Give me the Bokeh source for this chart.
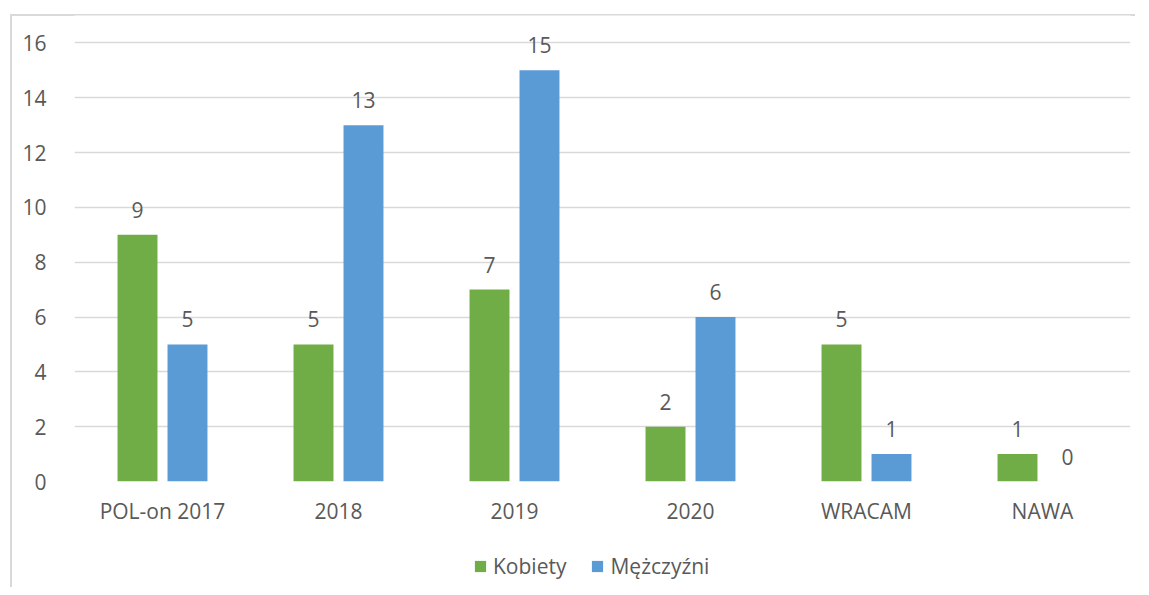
from bokeh.plotting import figure
from bokeh.layouts import column
from bokeh.models import ColumnDataSource, Range1d, FixedTicker, Legend, LegendItem, LabelSet
from bokeh.transform import dodge
from bokeh.core.properties import value
from bokeh.embed import file_html
from bokeh.resources import INLINE

categories = ["POL-on 2017", "2018", "2019", "2020", "WRACAM", "NAWA"]
kobiety = [9, 5, 7, 2, 5, 1]
mezczyzni = [5, 13, 15, 6, 1, 0]
y_ticks = [0, 2, 4, 6, 8, 10, 12, 14, 16]
series_names = ["Kobiety", "Mężczyźni"]

GREEN = "#70AD47"
BLUE = "#5B9BD5"
TEXT = "#595959"
BORDER = "#D9D9D9"
FONT = "Open Sans"
FS = "21px"

src = ColumnDataSource(dict(
    cat=categories, k=kobiety, m=mezczyzni,
    kl=[str(v) for v in kobiety], ml=[str(v) for v in mezczyzni],
))

W = 1141
H_MAIN = 530
H_LEG = 57

p = figure(x_range=categories, y_range=Range1d(0, 17), width=W, height=H_MAIN,
           output_backend="svg", toolbar_location=None,
           min_border_left=74, min_border_top=15, min_border_right=11, min_border_bottom=49)
p.outline_line_color = None
p.background_fill_color = "white"
p.border_fill_alpha = 0

off = 0.142
bw = 0.227
rk = p.vbar(x=dodge("cat", -off, range=p.x_range), top="k", width=bw, source=src,
            fill_color=GREEN, line_color=None)
rm = p.vbar(x=dodge("cat", off, range=p.x_range), top="m", width=bw, source=src,
            fill_color=BLUE, line_color=None)

for col, lab, d in (("k", "kl", -off), ("m", "ml", off)):
    ls = LabelSet(x=dodge("cat", d, range=p.x_range), y=col, text=lab, source=src,
                  y_offset=17, text_align="center", text_baseline="alphabetic",
                  text_font=value(FONT), text_font_size=FS, text_color=TEXT)
    p.add_layout(ls)

p.yaxis.ticker = FixedTicker(ticks=y_ticks)
p.yaxis.axis_line_color = None
p.yaxis.major_tick_line_color = None
p.yaxis.minor_tick_line_color = None
p.yaxis.major_label_standoff = 22
p.yaxis.major_label_text_font = FONT
p.yaxis.major_label_text_font_size = FS
p.yaxis.major_label_text_color = TEXT

p.xaxis.axis_line_color = None
p.xaxis.major_tick_line_color = None
p.xaxis.minor_tick_line_color = None
p.xaxis.major_label_standoff = 9
p.xaxis.major_label_text_font = FONT
p.xaxis.major_label_text_font_size = FS
p.xaxis.major_label_text_color = TEXT

p.xgrid.grid_line_color = None
p.ygrid.grid_line_color = "#D9D9D9"
p.ygrid.grid_line_width = 1.5

# legend strip below the chart (its frame is aligned with the main frame by the column)
pl = figure(width=W, height=H_LEG, x_range=Range1d(0, 1), y_range=Range1d(0, 1),
            output_backend="svg", toolbar_location=None,
            x_axis_location=None, y_axis_location=None, min_border=0)
pl.outline_line_color = None
pl.grid.grid_line_color = None
pl.border_fill_alpha = 0
pl.background_fill_alpha = 0
# legend swatches: zero-height bars placed outside the visible range
lk = pl.vbar(x=[-1], top=[0], width=0.1, fill_color=GREEN, line_color=None)
lm = pl.vbar(x=[-1], top=[0], width=0.1, fill_color=BLUE, line_color=None)
legend = Legend(items=[LegendItem(label=series_names[0], renderers=[lk]),
                       LegendItem(label=series_names[1], renderers=[lm])],
                orientation="horizontal", location=(399, 7),
                glyph_width=14, glyph_height=14, label_standoff=6, spacing=24,
                padding=0, margin=0, border_line_color=None, background_fill_alpha=0,
                label_text_font=FONT, label_text_font_size=FS, label_text_color=TEXT)
pl.add_layout(legend, "center")

layout = column(p, pl, spacing=0)
layout.styles = {
    "background": (
        f"linear-gradient({BORDER},{BORDER}) 10px 14px / 2px 100% no-repeat, "
        f"linear-gradient({BORDER},{BORDER}) 10px 14px / 1125px 2px no-repeat, white"
    )
}
open("out.html", "w").write(file_html(layout, INLINE))
